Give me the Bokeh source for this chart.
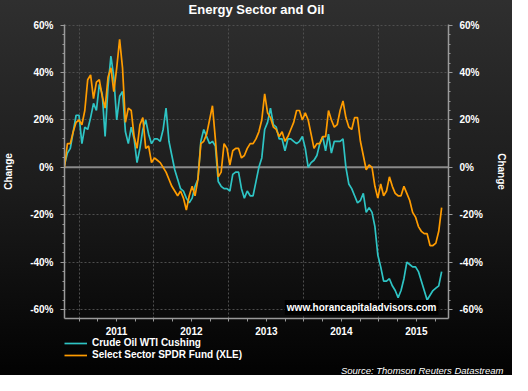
import numpy as np
from bokeh.plotting import figure
from bokeh.layouts import column
from bokeh.models import (Range1d, LinearAxis, FixedTicker, PrintfTickFormatter,
                          CustomJSTickFormatter, Span, Label, Legend, LegendItem,
                          ColumnDataSource, Title)
from bokeh.embed import file_html
from bokeh.resources import INLINE

# ---- data (percent change since start, sampled roughly every two weeks) ----
start_year = 2010.8065          # first observation (decimal year)
step_years = 0.0387             # sampling interval (decimal years)

oil_wti = [1, 6, 8, 15, 22, 22, 10, 17, 16, 21, 27, 24, 35, 31, 13, 34, 47, 38, 20, 30,
           32, 15, 10, 17, 12, 2, 8, 16, 20, 14, 10, 12, 12, 11, 16, 25, 11, 5, -1, -5,
           -9, -10, -13, -15, -13, -8, -5, 11, 16, 13, 10, 11, 9, -6, -8, -9, -9, -10, -3, -2,
           -2, -9, -13, -10, -12, -12, -6, 0, 4, 16, 19, 25, 18, 17, 12, 12, 7, 12, 12, 11,
           10, 11, 13, 8, 0, 2, 3, 5, 10, 13, 7, 14, 6, 11, 11, 11, 12, 0, -7, -9,
           -12, -15, -14, -11, -19, -17, -19, -25, -37, -42, -48, -48, -47, -50, -52, -55, -52, -47, -40, -41,
           -42, -42, -44, -48, -52, -56, -54, -52, -51, -50, -44]

xle = [0, 10, 10, 15, 19, 20, 18, 24, 37, 39, 29, 36, 37, 30, 25, 38, 42, 32, 42, 54,
       42, 19, 25, 24, 13, 8, 18, 21, 8, 9, 2, 4, 3, 2, 0, -2, -5, -8, -10, -12,
       -10, -13, -18, -12, -8, -12, -5, 10, 11, 14, 20, 26, 12, -4, -2, 10, 8, 1, 7, 8,
       8, 4, 5, 8, 10, 10, 12, 15, 20, 31, 23, 21, 17, 16, 13, 15, 11, 13, 16, 19,
       24, 24, 20, 23, 20, 14, 8, 10, 10, 13, 13, 24, 20, 17, 18, 24, 28, 21, 17, 16,
       21, 21, 11, 5, -1, 1, 0, -8, -13, -7, -12, -10, -4, -8, -11, -12, -12, -8, -11, -14,
       -19, -21, -25, -27, -28, -28, -33, -33, -32, -27, -17]

year_bounds = [2011, 2012, 2013, 2014, 2015]
year_label_pos = [2011.5, 2012.5, 2013.5, 2014.5, 2015.5]
y_ticks = [-60, -40, -20, 0, 20, 40, 60]

series_names = ["Crude Oil WTI Cushing", "Select Sector SPDR Fund (XLE)"]
title_text = "Energy Sector and Oil"
source_text = "Source: Thomson Reuters Datastream"
watermark_text = "www.horancapitaladvisors.com"

# ---- build ----
t = start_year + step_years * np.arange(len(oil_wti))
src = ColumnDataSource(dict(t=t, oil=oil_wti, xle=xle))

FONT = "Liberation Sans"
AXIS_COL = "#9a9a9a"
C_OIL = "#2EC4C4"
C_XLE = "#FF9C00"

def strip(height):
    s = figure(width=512, height=height, output_backend="svg", toolbar_location=None,
               x_range=Range1d(0, 1), y_range=Range1d(0, 1),
               x_axis_type=None, y_axis_type=None, min_border=0,
               border_fill_color=None, background_fill_color=None, outline_line_color=None)
    s.grid.visible = False
    return s

# ---- header strip: title ----
h = strip(18)
h.add_layout(Label(x=0.5, y=0.5, text=title_text, text_align="center", text_baseline="middle",
                   text_font=FONT, text_font_size="13px", text_font_style="bold",
                   text_color="white"))

# ---- main chart ----
p = figure(width=512, height=319, output_backend="svg", toolbar_location=None,
           x_range=Range1d(2010.8065, 2015.929), y_range=Range1d(-63.8, 60.3),
           min_border_left=63, min_border_right=64, min_border_top=6, min_border_bottom=19,
           border_fill_color=None, background_fill_color=None, outline_line_color=None)

quarters = [2010.75 + 0.25 * k for k in range(21)]
p.xaxis.ticker = FixedTicker(ticks=year_label_pos, minor_ticks=quarters)
p.xaxis.formatter = CustomJSTickFormatter(code="return String(Math.floor(tick))")
xa = p.xaxis[0]
xa.major_tick_line_color = None
xa.minor_tick_out = 3
xa.minor_tick_in = 0
xa.minor_tick_line_color = AXIS_COL
xa.axis_line_color = AXIS_COL
xa.axis_line_width = 1.5
xa.major_label_standoff = 2
xa.major_label_text_font = FONT
xa.major_label_text_font_size = "10px"
xa.major_label_text_font_style = "bold"
xa.major_label_text_color = "white"

yticker = FixedTicker(ticks=y_ticks, minor_ticks=list(range(-64, 61, 4)))
yfmt = PrintfTickFormatter(format="%d%%")

def style_y(ax, label_standoff):
    ax.ticker = yticker
    ax.formatter = yfmt
    ax.axis_label = "Change"
    ax.axis_label_text_font = FONT
    ax.axis_label_text_font_size = "10px"
    ax.axis_label_text_font_style = "bold"
    ax.axis_label_text_color = "white"
    ax.axis_label_standoff = label_standoff
    ax.axis_line_color = AXIS_COL
    ax.axis_line_width = 1.5
    ax.major_tick_line_color = AXIS_COL
    ax.major_tick_out = 4
    ax.major_tick_in = 0
    ax.minor_tick_line_color = AXIS_COL
    ax.minor_tick_out = 2
    ax.minor_tick_in = 0
    ax.major_label_standoff = 7
    ax.major_label_text_font = FONT
    ax.major_label_text_font_size = "10px"
    ax.major_label_text_font_style = "bold"
    ax.major_label_text_color = "white"

style_y(p.yaxis[0], 13)
ry = LinearAxis()
style_y(ry, 10)
p.add_layout(ry, "right")

p.ygrid.ticker = FixedTicker(ticks=y_ticks)
p.xgrid.ticker = FixedTicker(ticks=year_bounds)
for g in (p.xgrid[0], p.ygrid[0]):
    g.grid_line_color = "#4e4e4e"
    g.grid_line_dash = "2 2"
    g.grid_line_width = 1

p.add_layout(Span(location=0, dimension="width", line_color="#8a8a8a",
                  line_width=2, level="underlay"))

p.line("t", "oil", source=src, line_color=C_OIL, line_width=1.7)
p.line("t", "xle", source=src, line_color=C_XLE, line_width=1.7)

p.add_layout(Label(x=374, y=3.5, x_units="screen", y_units="screen", text=watermark_text,
                   text_align="right", text_baseline="bottom", text_font=FONT,
                   text_font_size="10px", text_font_style="bold", text_color="white",
                   background_fill_color="black", padding=2))

# ---- footer strip: legend + source ----
f = strip(38)
proxy = ColumnDataSource(dict(x=np.array([np.nan]), y=np.array([np.nan])))
k_oil = f.line("x", "y", source=proxy, line_color=C_OIL, line_width=1.7)
k_xle = f.line("x", "y", source=proxy, line_color=C_XLE, line_width=1.7)

legend = Legend(items=[LegendItem(label=series_names[0], renderers=[k_oil]),
                       LegendItem(label=series_names[1], renderers=[k_xle])],
                location="top_left", orientation="vertical",
                background_fill_alpha=0, border_line_color=None,
                label_text_color="white", label_text_font=FONT,
                label_text_font_style="bold", label_text_font_size="10px",
                glyph_width=23, glyph_height=10, label_height=10,
                spacing=1, padding=3, margin=0, label_standoff=5)
f.add_layout(legend)

f.add_layout(Title(text=source_text, align="right", offset=-55, standoff=0,
                   text_font=FONT, text_font_size="9.5px", text_font_style="italic",
                   text_color="white"), "below")

layout = column(h, p, f, spacing=0,
                styles={"background": "linear-gradient(to bottom, #2f2f2f 0%, #1c1c1c 50%, #020202 100%)"})

open("out.html", "w").write(file_html(layout, INLINE))
